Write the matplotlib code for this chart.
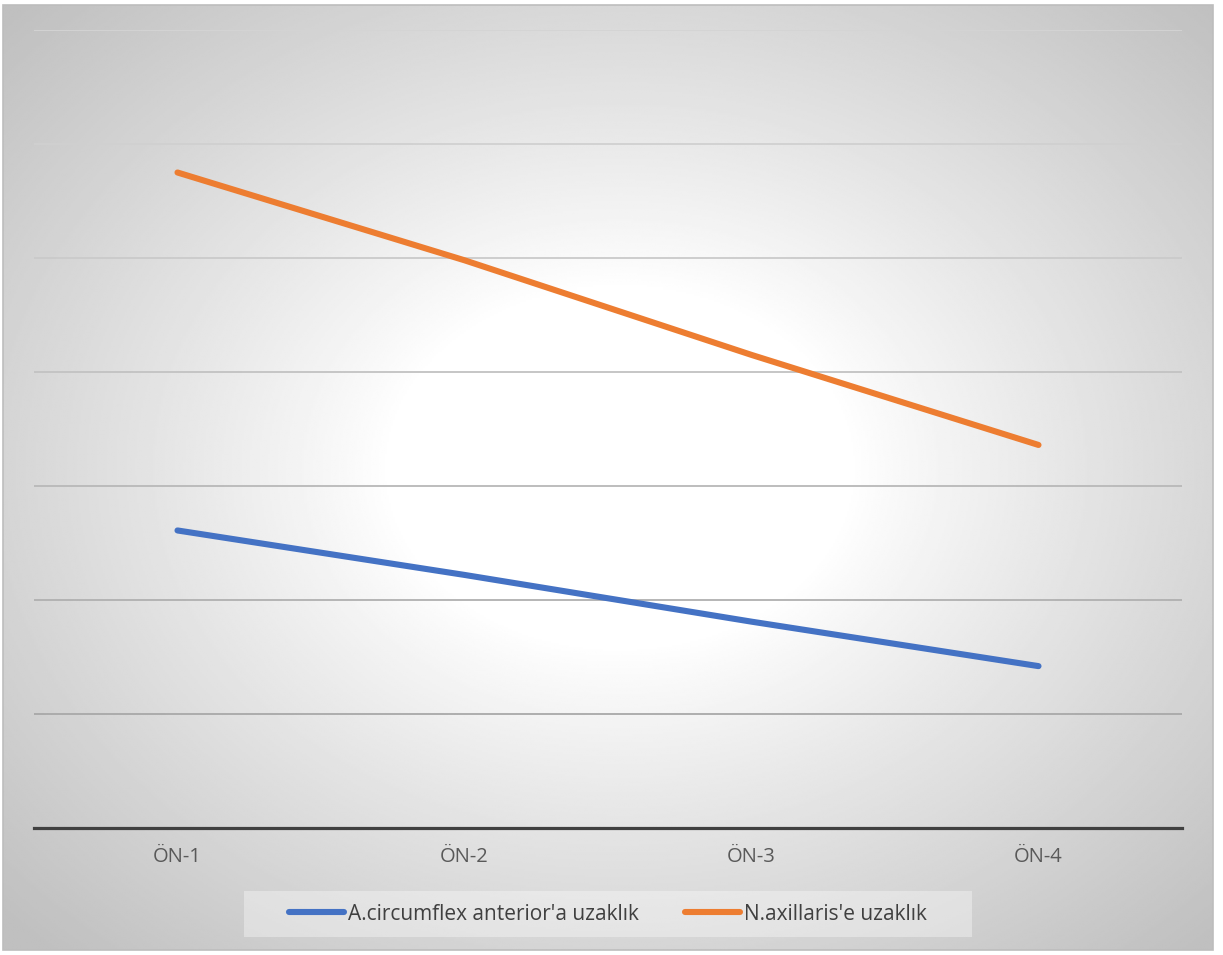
import matplotlib.pyplot as plt
from matplotlib.patches import Rectangle
import numpy as np

# chart data (grid step = 1 unit)
categories = ['ÖN-1', 'ÖN-2', 'ÖN-3', 'ÖN-4']
circumflex = [2.61, 2.22, 1.81, 1.42]
axillaris = [5.75, 4.98, 4.15, 3.36]
series_names = ["A.circumflex anterior'a uzaklık", "N.axillaris'e uzaklık"]

plt.rcParams['font.family'] = ['Open Sans', 'DejaVu Sans']

W, H = 1223, 955
fig = plt.figure(figsize=(W / 100, H / 100), dpi=100)
fig.patch.set_facecolor('white')

# radial grey background of the chart area
bg = fig.add_axes([3 / W, 5 / H, 1210 / W, 945 / H])
gx, gy = np.meshgrid(np.linspace(-1, 1, 600), np.linspace(-1, 1, 470))
r = np.sqrt((gx - 0.02) ** 2 + (gy + 0.02) ** 2)
t = np.clip((r - 0.38) / (1.40 - 0.38), 0, 1)
shade = 1.0 - 0.25 * t ** 0.9
bg.imshow(shade, cmap='gray', vmin=0, vmax=1, aspect='auto',
          extent=[0, 1, 0, 1], interpolation='bilinear')
bg.set_axis_off()
fig.patches.append(Rectangle((3 / W, 5 / H), 1210 / W, 945 / H,
                             transform=fig.transFigure, fill=False,
                             edgecolor='#BDBDBD', linewidth=1.2))

# light box behind the legend
fig.patches.append(Rectangle((244 / W, (H - 937) / H), 728 / W, 46 / H,
                             transform=fig.transFigure, facecolor='white',
                             alpha=0.35, edgecolor='none'))

ax = fig.add_axes([34 / W, (H - 828) / H, 1148 / W, 798 / H])
ax.set_facecolor('none')
x = np.arange(len(categories))
ax.set_xlim(-0.5, 3.5)
ax.set_ylim(0, 7)

# gridlines, darker toward the bottom like the original
grid_y = np.arange(1, 8)
grid_colors = ['#A8A8A8', '#B0B0B0', '#B8B8B8', '#C2C2C2', '#CACACA', '#D0D0D0', '#D4D4D4']
for gyv, gc in zip(grid_y, grid_colors):
    ax.axhline(gyv, color=gc, lw=1.3, zorder=1)

ax.plot(x, circumflex, color='#4472C4', lw=4.4, solid_capstyle='round',
        label=series_names[0], zorder=3)
ax.plot(x, axillaris, color='#ED7D31', lw=4.4, solid_capstyle='round',
        label=series_names[1], zorder=3)

for s in ['top', 'left', 'right']:
    ax.spines[s].set_visible(False)
ax.spines['bottom'].set_color('#404040')
ax.spines['bottom'].set_linewidth(2.3)
ax.set_yticks([])
ax.set_xticks(x)
ax.set_xticklabels(categories, fontsize=14.5, color='#595959')
ax.tick_params(axis='x', length=0, pad=14)

leg = fig.legend(loc='center', bbox_to_anchor=(608 / W, (H - 914) / H), ncol=2,
                 fontsize=15, frameon=False, handlelength=2.65,
                 handletextpad=0.2, columnspacing=2.2)
for txt in leg.get_texts():
    txt.set_color('#404040')

fig.savefig('out.png', dpi=100)
